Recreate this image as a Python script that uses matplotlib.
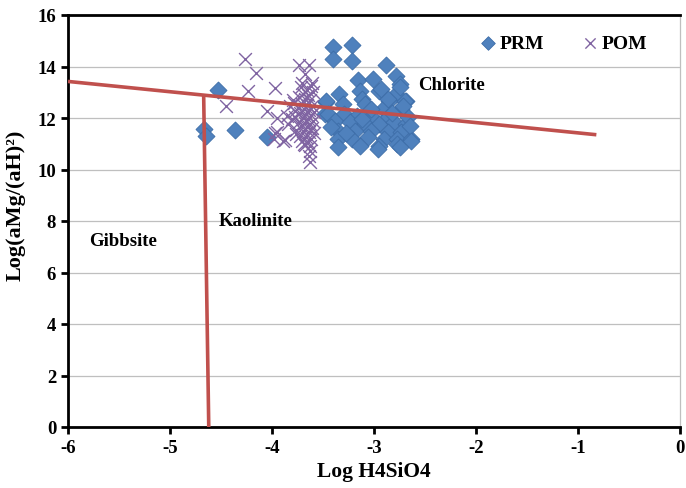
import matplotlib
matplotlib.use("Agg")
import matplotlib.pyplot as plt

plt.rcParams["axes.unicode_minus"] = False

# PRM samples (blue diamonds)
prm_x = [-4.53, -4.67, -4.65, -4.36, -4.05, -3.47, -3.48, -3.40, -3.40,
         -3.22, -3.22, -2.88, -3.16, -3.01, -2.78, -2.75, -3.14, -2.95,
         -2.78, -3.34, -3.12, -2.85, -2.69, -3.47, -3.30, -3.09, -2.91,
         -2.74, -3.45, -3.29, -3.17, -3.03, -2.86, -3.38, -3.24, -3.09,
         -2.95, -2.80, -2.69, -3.35, -3.19, -3.03, -2.86, -2.74, -3.35,
         -3.22, -3.06, -2.90, -2.77, -2.64, -3.35, -3.14, -2.95, -2.77,
         -2.93, -2.75, -2.70, -2.86, -3.03, -2.67, -2.65, -2.64, -2.75,
         -2.96, -3.42, -3.27, -3.12, -2.82, -2.72]
prm_y = [13.10, 11.57, 11.31, 11.55, 11.25, 12.63, 12.16, 14.75, 14.30,
         14.85, 14.22, 14.05, 13.49, 13.51, 13.62, 13.32, 13.06, 13.06,
         12.93, 12.93, 12.74, 12.67, 12.67, 12.67, 12.54, 12.54, 12.35,
         12.35, 12.16, 12.16, 12.09, 12.09, 12.03, 11.90, 11.83, 11.77,
         11.77, 11.83, 11.77, 11.51, 11.51, 11.51, 11.44, 11.44, 11.18,
         11.18, 11.25, 11.18, 11.18, 11.18, 10.86, 10.92, 10.92, 10.99,
         13.13, 13.19, 12.67, 12.74, 12.35, 12.03, 11.70, 11.12, 10.86,
         10.80, 11.65, 11.40, 11.95, 12.20, 12.45]

# POM samples (purple crosses)
pom_x = [-4.26, -4.16, -4.24, -4.45, -3.97, -4.05, -3.95, -3.97, -3.87,
         -3.74, -3.64, -3.68, -3.71, -3.61, -3.64, -3.63, -3.85, -3.84,
         -3.95, -3.89, -3.76, -3.63, -3.77, -3.69, -3.98,
         -3.72, -3.66, -3.62, -3.70, -3.65, -3.60, -3.74, -3.68, -3.63,
         -3.78, -3.71, -3.66, -3.61, -3.75, -3.69, -3.64, -3.59, -3.73,
         -3.67, -3.62, -3.77, -3.70, -3.65, -3.60, -3.74, -3.68, -3.63,
         -3.72, -3.66, -3.61, -3.76, -3.70, -3.64, -3.59, -3.73, -3.67,
         -3.62, -3.71, -3.65, -3.68, -3.63, -3.80, -3.82, -3.79]
pom_y = [14.29, 13.73, 13.06, 12.48, 13.15, 12.28, 11.99, 11.40, 11.15,
         14.05, 14.05, 13.71, 13.36, 13.36, 10.54, 10.30, 12.09, 11.77,
         11.44, 11.12, 11.38, 10.73, 12.28, 10.99, 11.18,
         13.20, 13.10, 13.25, 12.95, 12.90, 13.00, 12.80, 12.75, 12.70,
         12.60, 12.55, 12.50, 12.45, 12.40, 12.35, 12.30, 12.25, 12.20,
         12.15, 12.10, 12.05, 12.00, 11.95, 11.90, 11.85, 11.80, 11.75,
         11.70, 11.65, 11.60, 11.55, 11.50, 11.45, 11.40, 11.30, 11.25,
         11.20, 11.10, 11.05, 10.95, 10.90, 11.95, 12.45, 12.70]

# boundary lines
chl_x = [-6.0, -0.82]
chl_y = [13.42, 11.35]
kao_x = [-4.67, -4.62]
kao_y = [12.90, 0.0]

blue = "#4F81BD"
purple = "#8064A2"
red = "#C0504D"
serif = "Liberation Serif"

fig = plt.figure(figsize=(6.86, 4.89), dpi=100)
ax = fig.add_axes([68 / 686, 1 - 428 / 489, 612 / 686, 412 / 489])

ax.plot(chl_x, chl_y, color=red, lw=2.6, solid_capstyle="butt", zorder=4)
ax.plot(kao_x, kao_y, color=red, lw=2.6, solid_capstyle="butt", zorder=4)

ax.scatter(prm_x, prm_y, marker="D", s=75, color=blue, edgecolors="#3D6DA8",
           linewidths=0.6, label="PRM", zorder=3)
ax.scatter(pom_x, pom_y, marker="x", s=85, color=purple, linewidths=1.0,
           label="POM", zorder=3)

ax.set_xlim(-6, 0)
ax.set_ylim(0, 16)
ax.set_xticks(range(-6, 1))
ax.set_yticks(range(0, 17, 2))
ax.yaxis.grid(True, color="#BFBFBF", lw=0.9)
ax.set_axisbelow(True)

for s in ["left", "bottom", "top"]:
    ax.spines[s].set_linewidth(2)
    ax.spines[s].set_color("black")
ax.spines["right"].set_color("#BFBFBF")
ax.spines["right"].set_linewidth(0.9)

ax.tick_params(direction="out", length=5, width=2, labelsize=13.5)
for lab in ax.get_xticklabels() + ax.get_yticklabels():
    lab.set_fontfamily(serif)
    lab.set_fontweight("bold")

ax.set_xlabel("Log H4SiO4", fontsize=15.5, fontweight="bold", family=serif, labelpad=4)
ax.set_ylabel("Log(aMg/(aH)²)", fontsize=16, fontweight="bold", family=serif)
ax.yaxis.set_label_coords(-0.069, 0.54)

ax.text(-2.57, 13.3, "Chlorite", fontsize=13.5, fontweight="bold", family=serif, va="center")
ax.text(-4.52, 8.0, "Kaolinite", fontsize=13.5, fontweight="bold", family=serif, va="center")
ax.text(-5.79, 7.26, "Gibbsite", fontsize=13.5, fontweight="bold", family=serif, va="center")

ax.legend(loc="upper right", bbox_to_anchor=(0.96, 0.972), borderaxespad=0,
          ncol=2, frameon=False, handlelength=0.8, handletextpad=0.2,
          columnspacing=2.0, markerscale=0.8,
          prop={"family": serif, "weight": "bold", "size": 14})

fig.savefig("out.png", dpi=100)
